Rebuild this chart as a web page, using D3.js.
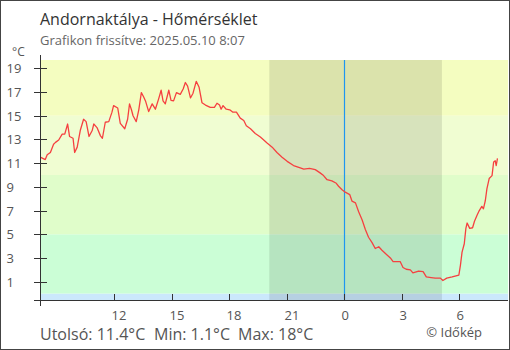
<!DOCTYPE html>
<html><head><meta charset="utf-8">
<script src="https://cdn.jsdelivr.net/npm/d3@7"></script>
<style>html,body{margin:0;padding:0;background:#fff}svg{display:block}text{font-family:"Open Sans",sans-serif}</style>
</head><body><svg id="c" width="510" height="350"></svg>
<script>
const title = "Andornaktálya - Hőmérséklet";
const subtitle = "Grafikon frissítve: 2025.05.10 8:07";
const unitLabel = "°C";
const footerTexts = ["Utolsó: 11.4°C", "Min: 1.1°C", "Max: 18°C"];
const credit = "© Időkép";
const yTicks = [1,3,5,7,9,11,13,15,17,19];
const xTickTimes = ["2025-05-09 12:00","2025-05-09 15:00","2025-05-09 18:00","2025-05-09 21:00","2025-05-10 00:00","2025-05-10 03:00","2025-05-10 06:00"];
const xTickLabels = ["12","15","18","21","0","3","6"];
const domainStart = "2025-05-09 08:07";
const domainEnd = "2025-05-10 08:32";
const nightStart = "2025-05-09 20:04";
const nightEnd = "2025-05-10 05:05";
const midnight = "2025-05-10 00:00";
const bandLows = [-10, 0, 5, 10, 15];
const bandHighs = [0, 5, 10, 15, 40];
const bandColors = ["#cbe8fc", "#cbfed6", "#e0fdca", "#f0fdd2", "#f4fdc0"];
const times = ["08:07","08:22","08:28","08:38","08:48","08:54","09:04","09:15","09:23","09:32","09:38","09:49","09:54","10:02","10:12","10:22","10:30","10:39","10:49","10:54","11:04","11:15","11:21","11:30","11:41","11:51","11:56","12:09","12:17","12:31","12:40","12:46","12:52","12:57","13:07","13:15","13:23","13:30","13:36","13:46","13:57","14:07","14:17","14:25","14:31","14:38","14:49","14:56","15:04","15:13","15:25","15:34","15:41","15:48","15:57","16:05","16:15","16:24","16:33","16:44","16:59","17:12","17:20","17:28","17:33","17:39","17:49","18:00","18:10","18:21","18:33","18:44","18:52","19:05","19:20","19:36","19:57","20:13","20:28","20:44","21:00","21:20","21:41","21:52","22:10","22:28","22:42","22:54","23:05","23:20","23:34","23:41","23:52","00:02","00:16","00:23","00:34","00:44","00:55","01:05","01:15","01:26","01:36","01:47","01:57","02:13","02:25","02:32","02:54","03:03","03:13","03:26","03:34","03:52","04:06","04:16","04:31","04:44","05:00","05:08","05:20","05:37","05:58","06:03","06:08","06:15","06:20","06:24","06:32","06:41","06:47","06:55","07:02","07:10","07:15","07:21","07:26","07:33","07:42","07:47","07:52","07:55","07:59"];
const temps = [11.5,11.3,11.7,11.9,12.6,12.75,12.95,13.45,13.45,14.3,13.25,13.1,11.9,12.35,13.8,14.7,14.5,13.25,13.75,14.3,14.0,13.3,13.1,14.45,14.5,15.3,15.85,15.65,14.35,13.9,14.7,16.0,15.5,15.0,14.5,15.5,16.95,16.6,16.25,15.35,16.0,15.55,16.4,17.15,16.25,16.0,17.15,16.3,16.25,16.95,16.8,17.25,17.8,17.5,16.5,16.9,17.9,17.4,16.1,15.9,15.7,15.7,16.05,15.9,15.55,15.85,15.55,15.5,15.3,15.3,14.8,14.6,14.15,13.9,13.5,13.2,12.7,12.35,11.9,11.5,11.15,10.8,10.6,10.5,10.55,10.45,10.2,9.95,9.6,9.5,9.3,9.05,8.75,8.55,8.35,7.8,7.65,6.9,6.2,5.4,4.75,4.3,3.8,3.95,3.65,3.25,2.95,2.7,2.7,2.2,2.05,2.0,1.75,1.9,1.85,1.4,1.35,1.3,1.3,1.1,1.3,1.4,1.55,2.4,3.5,4.2,5.5,5.95,5.5,5.55,6.1,6.6,7.0,7.35,7.15,7.85,8.85,9.7,9.95,11.1,11.2,10.8,11.4];

const parseFull = d3.timeParse("%Y-%m-%d %H:%M");
const series = [];
let day = "2025-05-09", prev = -1;
const n = Math.min(times.length, temps.length);
for (let i = 0; i < n; i++) {
  const [h, m] = times[i].split(":").map(Number);
  const mins = h * 60 + m;
  if (mins < prev) day = "2025-05-10";
  prev = mins;
  series.push({t: parseFull(day + " " + times[i]), v: temps[i]});
}

const L = 41, R = 508, T = 60, B = 300;
const svg = d3.select("#c");
const x = d3.scaleTime().domain([parseFull(domainStart), parseFull(domainEnd)]).range([40.5, R]);
const y = d3.scaleLinear().domain([-0.544, 19.7]).range([B, T]);

svg.append("rect").attr("x",0.5).attr("y",0.5).attr("width",509).attr("height",349)
  .attr("fill","#fff").attr("stroke","#444").attr("stroke-width",1);

svg.append("defs").append("clipPath").attr("id","pc")
  .append("rect").attr("x",L).attr("y",T).attr("width",R-L).attr("height",B-T);
const plot = svg.append("g").attr("clip-path","url(#pc)");

plot.selectAll("rect.band").data(bandLows).join("rect").attr("class","band")
  .attr("x", L).attr("width", R - L)
  .attr("y", (d,i) => y(bandHighs[i]))
  .attr("height", (d,i) => y(d) - y(bandHighs[i]))
  .attr("fill", (d,i) => bandColors[i]);

plot.append("rect")
  .attr("x", x(parseFull(nightStart))).attr("y", T)
  .attr("width", x(parseFull(nightEnd)) - x(parseFull(nightStart))).attr("height", B - T)
  .attr("fill", "#000").attr("fill-opacity", 0.1);

const mx = Math.floor(x(parseFull(midnight))) + 0.5;
plot.append("line").attr("x1", mx).attr("x2", mx).attr("y1", T).attr("y2", B)
  .attr("stroke", "#1e96f0").attr("stroke-width", 1.2);

const line = d3.line().x(d => x(d.t)).y(d => y(d.v));
plot.append("path").datum(series).attr("d", line)
  .attr("fill","none").attr("stroke","#f54040").attr("stroke-width",1.3).attr("stroke-linejoin","round");

const axisColor = "#333";
svg.append("line").attr("x1",40.5).attr("x2",40.5).attr("y1",55).attr("y2",306).attr("stroke",axisColor);
svg.append("line").attr("x1",34).attr("x2",R).attr("y1",300.5).attr("y2",300.5).attr("stroke",axisColor);

const yg = svg.append("g");
yTicks.forEach(v => {
  const yy = Math.round(y(v)) + 0.5;
  yg.append("line").attr("x1",34).attr("x2",47).attr("y1",yy).attr("y2",yy).attr("stroke",axisColor);
  yg.append("text").attr("x",6.5).attr("y",yy+4.5).attr("font-size",13).attr("fill","#555").text(v);
});
const xg = svg.append("g");
xTickTimes.forEach((s,i) => {
  const xx = Math.floor(x(parseFull(s))) + 0.5;
  xg.append("line").attr("x1",xx).attr("x2",xx).attr("y1",294).attr("y2",300).attr("stroke",axisColor);
  xg.append("text").attr("x",xx-3).attr("y",320).attr("font-size",13).attr("fill","#555").text(xTickLabels[i]);
});

svg.append("text").attr("x",12).attr("y",56).attr("font-size",12).attr("fill","#555").text(unitLabel);
svg.append("text").attr("x",40).attr("y",25).attr("font-size",16).attr("fill","#333").text(title);
svg.append("text").attr("x",40).attr("y",45).attr("font-size",13).attr("fill","#666").text(subtitle);
const fx = [40, 154, 238];
footerTexts.forEach((s,i) => svg.append("text").attr("x",fx[i]).attr("y",340).attr("font-size",16).attr("fill","#555").text(s));
svg.append("text").attr("x",482).attr("y",337).attr("text-anchor","end").attr("font-size",13).attr("fill","#555").text(credit);
</script></body></html>
